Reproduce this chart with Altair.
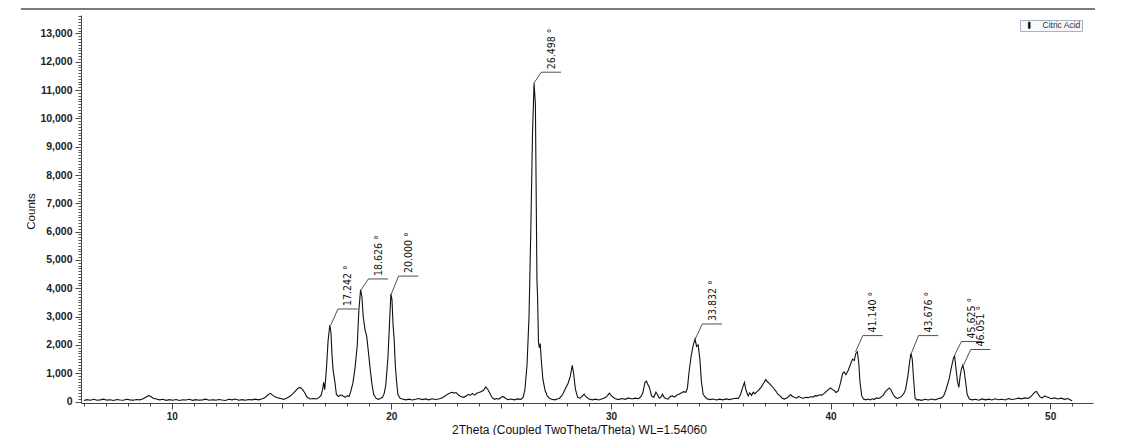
import altair as alt
import pandas as pd

# ---- scan: (2theta, counts) ----
region_06_16 = [
    (6.0, 40), (6.15, 70), (6.3, 50), (6.45, 80), (6.6, 45), (6.75, 60), (6.9, 85), (7.05, 50),
    (7.2, 65), (7.35, 40), (7.5, 75), (7.65, 55), (7.8, 45), (7.95, 80), (8.1, 60), (8.25, 50),
    (8.4, 75), (8.55, 60), (8.7, 100), (8.85, 170), (8.95, 210), (9.05, 180), (9.15, 120),
    (9.3, 90), (9.45, 60), (9.6, 80), (9.75, 45), (9.9, 70), (10.05, 50), (10.2, 75), (10.35, 40),
    (10.5, 65), (10.65, 55), (10.8, 80), (10.95, 45), (11.1, 70), (11.25, 50), (11.4, 60),
    (11.55, 85), (11.7, 45), (11.85, 65), (12.0, 50), (12.15, 75), (12.3, 55), (12.45, 40),
    (12.6, 80), (12.75, 60), (12.9, 90), (13.05, 50), (13.2, 70), (13.35, 45), (13.5, 75),
    (13.65, 60), (13.8, 85), (13.95, 60), (14.1, 90), (14.25, 140), (14.4, 250), (14.5, 290),
    (14.6, 220), (14.7, 170), (14.85, 130), (15.0, 100), (15.1, 80), (15.2, 110), (15.35, 170),
    (15.5, 260), (15.65, 390), (15.75, 470), (15.85, 500), (15.95, 430), (16.05, 320),
    (16.15, 170), (16.3, 90), (16.45, 110), (16.6, 90), (16.7, 140),
]
region_16_21 = [
    (16.8, 220), (16.87, 420), (16.92, 680), (16.97, 420), (17.05, 1200), (17.12, 2150),
    (17.2, 2700), (17.25, 2450), (17.3, 1650), (17.35, 1100), (17.42, 750), (17.5, 250),
    (17.6, 180), (17.7, 240), (17.8, 200), (17.9, 150), (18.0, 210), (18.08, 180), (18.15, 350),
    (18.25, 650), (18.35, 1200), (18.45, 2000), (18.52, 3200), (18.6, 3950), (18.66, 3700),
    (18.72, 3000), (18.8, 2550), (18.88, 2300), (18.95, 1800), (19.03, 1200), (19.12, 600),
    (19.2, 250), (19.3, 120), (19.4, 80), (19.5, 110), (19.6, 150), (19.68, 300), (19.75, 600),
    (19.85, 1600), (19.92, 2800), (19.98, 3800), (20.03, 3600), (20.08, 2700), (20.13, 2200),
    (20.18, 1300), (20.24, 700), (20.3, 250), (20.4, 120), (20.5, 90), (20.65, 60), (20.8, 85),
    (20.95, 55),
]
region_21_30 = [
    (21.1, 80), (21.25, 110), (21.4, 70), (21.55, 95), (21.7, 60), (21.85, 100), (22.0, 75),
    (22.15, 90), (22.3, 130), (22.45, 200), (22.6, 280), (22.75, 330), (22.85, 300),
    (22.95, 320), (23.05, 240), (23.15, 180), (23.3, 150), (23.4, 200), (23.5, 250),
    (23.6, 230), (23.7, 290), (23.8, 230), (23.9, 300), (24.0, 320), (24.1, 360), (24.2, 400),
    (24.3, 520), (24.4, 420), (24.5, 280), (24.6, 130), (24.7, 80), (24.8, 110), (24.9, 90),
    (25.0, 150), (25.08, 180), (25.2, 120), (25.3, 70), (25.45, 90), (25.6, 60), (25.75, 95),
    (25.9, 80), (26.0, 150), (26.08, 400), (26.18, 1300), (26.27, 3000), (26.35, 6000),
    (26.43, 9500), (26.5, 11250), (26.56, 10500), (26.6, 7000), (26.63, 4300), (26.66, 3700),
    (26.7, 2100), (26.74, 1900), (26.78, 2050), (26.83, 1450), (26.9, 800), (27.0, 400),
    (27.1, 200), (27.2, 120), (27.3, 80), (27.45, 60), (27.55, 90), (27.65, 110), (27.8, 250),
    (27.95, 500), (28.05, 650), (28.15, 900), (28.24, 1280), (28.3, 1000), (28.38, 450),
    (28.48, 150), (28.6, 120), (28.7, 200), (28.78, 260), (28.85, 180), (29.0, 90),
    (29.15, 60), (29.3, 85), (29.45, 55), (29.6, 100), (29.75, 140), (29.85, 220),
    (29.93, 300), (30.0, 230),
]
region_30_40 = [
    (30.1, 150), (30.2, 100), (30.35, 70), (30.5, 110), (30.65, 80), (30.8, 130), (30.95, 90),
    (31.1, 120), (31.25, 100), (31.35, 160), (31.45, 300), (31.55, 680), (31.62, 720),
    (31.68, 600), (31.75, 500), (31.85, 200), (31.95, 150), (32.05, 330), (32.12, 250),
    (32.2, 120), (32.28, 160), (32.35, 260), (32.42, 150), (32.5, 110), (32.6, 90),
    (32.7, 180), (32.8, 200), (32.9, 160), (33.0, 230), (33.1, 260), (33.2, 300), (33.3, 350),
    (33.4, 330), (33.48, 450), (33.55, 1000), (33.65, 1600), (33.75, 2000), (33.83, 2200),
    (33.9, 1950), (33.97, 2000), (34.05, 1500), (34.12, 700), (34.2, 250), (34.35, 110),
    (34.5, 70), (34.65, 90), (34.8, 55), (34.95, 85), (35.1, 60), (35.25, 95), (35.4, 70),
    (35.55, 100), (35.7, 120), (35.8, 110), (35.9, 250), (36.0, 500), (36.08, 680),
    (36.15, 400), (36.25, 200), (36.32, 310), (36.4, 220), (36.48, 330), (36.55, 280),
    (36.65, 350), (36.75, 420), (36.85, 520), (36.95, 650), (37.05, 780), (37.12, 700),
    (37.2, 650), (37.3, 560), (37.4, 480), (37.5, 380), (37.6, 260), (37.7, 200), (37.8, 120),
    (37.9, 90), (38.0, 130), (38.1, 180), (38.18, 250), (38.25, 190), (38.35, 150),
    (38.45, 120), (38.55, 180), (38.65, 140), (38.75, 110), (38.85, 150), (39.0, 140),
    (39.1, 180), (39.2, 160), (39.3, 210), (39.4, 200), (39.5, 240), (39.6, 230), (39.7, 280),
    (39.8, 350), (39.9, 420),
]
region_40_51 = [
    (40.0, 480), (40.08, 430), (40.15, 400), (40.25, 320), (40.35, 380), (40.45, 650),
    (40.55, 1000), (40.62, 1050), (40.7, 950), (40.8, 1100), (40.9, 1300), (41.0, 1500),
    (41.08, 1450), (41.15, 1700), (41.22, 1760), (41.28, 1400), (41.34, 700), (41.42, 200),
    (41.5, 90), (41.6, 60), (41.7, 90), (41.8, 60), (41.9, 100), (42.0, 80), (42.1, 130),
    (42.2, 110), (42.3, 160), (42.4, 230), (42.5, 350), (42.6, 430), (42.68, 480),
    (42.75, 420), (42.85, 250), (42.95, 150), (43.05, 110), (43.15, 140), (43.25, 200),
    (43.35, 300), (43.42, 450), (43.52, 900), (43.6, 1400), (43.66, 1700), (43.72, 1500),
    (43.78, 800), (43.85, 120), (43.92, 60), (44.0, 70), (44.15, 45), (44.3, 80), (44.45, 55),
    (44.6, 90), (44.75, 60), (44.9, 100), (45.05, 130), (45.15, 200), (45.25, 400),
    (45.4, 800), (45.5, 1200), (45.6, 1550), (45.65, 1600), (45.72, 1100), (45.78, 700),
    (45.84, 500), (45.9, 900), (45.96, 1150), (46.02, 1280), (46.08, 1100), (46.15, 700),
    (46.22, 250), (46.32, 90), (46.45, 60), (46.6, 80), (46.75, 50), (46.9, 95), (47.05, 60),
    (47.2, 85), (47.35, 55), (47.5, 100), (47.65, 65), (47.8, 80), (47.95, 55), (48.1, 105),
    (48.25, 75), (48.4, 90), (48.55, 120), (48.7, 95), (48.85, 130), (49.0, 110),
    (49.1, 160), (49.2, 250), (49.3, 330), (49.38, 360), (49.45, 270), (49.55, 150),
    (49.65, 130), (49.75, 200), (49.82, 170), (49.9, 150), (50.05, 100), (50.2, 130),
    (50.35, 90), (50.5, 120), (50.65, 80), (50.8, 110), (50.95, 50), (51.0, 30),
]

series_name = "Citric Acid"

peak_pos = [17.242, 18.626, 20.000, 26.498, 33.832, 41.140, 43.676, 45.625, 46.051]
peak_top = [2700, 3950, 3800, 11250, 2200, 1760, 1700, 1600, 1280]
peak_elbow = [3270, 4330, 4430, 11630, 2740, 2330, 2330, 2120, 1840]
peak_text = ["17.242 °", "18.626 °", "20.000 °", "26.498 °", "33.832 °",
             "41.140 °", "43.676 °", "45.625 °", "46.051 °"]

x_ticks_major = [10, 20, 30, 40, 50]
x_ticks_mid = [15, 25, 35, 45]
x_ticks_minor = list(range(6, 52))
y_ticks_major = list(range(0, 13001, 1000))
y_ticks_minor = list(range(0, 13601, 100))

X_DOM = [5.87, 51.95]
Y_DOM = [-50, 13650]

scan = region_06_16 + region_16_21 + region_21_30 + region_30_40 + region_40_51
df = pd.DataFrame(scan, columns=["theta", "counts"])
df["series"] = series_name
lab = pd.DataFrame({"pos": peak_pos, "top": peak_top, "elbow": peak_elbow, "text": peak_text})
lab["ex"] = lab["pos"] + 0.33
lab["hx"] = lab["ex"] + 0.9
lab["tx"] = lab["ex"] + 0.47

xs = alt.Scale(domain=X_DOM, nice=False, zero=False)
ys = alt.Scale(domain=Y_DOM, nice=False, zero=False)

AX = dict(domainColor="#444", tickColor="#444", labelColor="#222",
          labelFont="Liberation Sans", titleFont="Liberation Sans", grid=False)

x_major = alt.Axis(values=x_ticks_major, tickSize=6, labelPadding=2, labelFontSize=10,
                   labelFontWeight="bold", title="2Theta (Coupled TwoTheta/Theta) WL=1.54060",
                   titleFontSize=12, titleFontWeight="normal", titleColor="#111",
                   titleX=498, titleY=26, titleBaseline="middle", titleAnchor="middle",
                   orient="bottom", **AX)
y_major = alt.Axis(values=y_ticks_major, labelExpr="format(datum.value, ',')",
                   tickSize=6, labelPadding=3, labelFontSize=10.5,
                   labelFontWeight="bold", title="Counts", titleFontSize=11.5,
                   titleFontWeight="normal", titleColor="#111", titleAngle=270,
                   titleX=-50, titleY=196, titleAlign="center", titleBaseline="middle",
                   orient="left", **AX)

line = alt.Chart(df).mark_line(strokeWidth=1.1, clip=True).encode(
    x=alt.X("theta:Q", scale=xs, axis=x_major),
    y=alt.Y("counts:Q", scale=ys, axis=y_major),
    color=alt.Color("series:N", scale=alt.Scale(range=["#111111"]),
                    legend=alt.Legend(orient="none", legendX=939, legendY=5, title=None,
                                      labelFontSize=8.5, labelFont="Liberation Sans",
                                      labelColor="#333",
                                      symbolType="M-0.3,-1L0.3,-1L0.3,1L-0.3,1Z",
                                      symbolSize=40, symbolFillColor="#000",
                                      symbolStrokeColor="#000", symbolStrokeWidth=0.5,
                                      strokeColor="#a8b2c8", fillColor="#f7f8fb",
                                      padding=1, rowPadding=0, labelOffset=9,
                                      symbolOffset=4, cornerRadius=0)),
)

minor_axes = alt.Chart(df).mark_point(opacity=0).encode(
    x=alt.X("theta:Q", scale=xs,
            axis=alt.Axis(values=x_ticks_minor, labels=False, tickSize=3, domain=False,
                          title=None, tickColor="#444", grid=False, orient="bottom")),
    y=alt.Y("counts:Q", scale=ys,
            axis=alt.Axis(values=y_ticks_minor, labels=False, tickSize=3, domain=False,
                          title=None, tickColor="#555", grid=False, orient="left")),
)
mid_axes = alt.Chart(df).mark_point(opacity=0).encode(
    x=alt.X("theta:Q", scale=xs,
            axis=alt.Axis(values=x_ticks_mid, labels=False, tickSize=5, domain=False,
                          title=None, tickColor="#444", grid=False, orient="bottom")),
    y=alt.Y("counts:Q", scale=ys,
            axis=alt.Axis(values=[0], labels=False, tickSize=3, domain=False,
                          title=None, tickColor="#555", grid=False, orient="left")),
)

diag = alt.Chart(lab).mark_rule(strokeWidth=0.8, color="#222").encode(
    x=alt.X("pos:Q", scale=xs, axis=None), y=alt.Y("top:Q", scale=ys, axis=None),
    x2="ex:Q", y2="elbow:Q")
horiz = alt.Chart(lab).mark_rule(strokeWidth=0.8, color="#222").encode(
    x=alt.X("ex:Q", scale=xs, axis=None), x2="hx:Q", y=alt.Y("elbow:Q", scale=ys, axis=None))
texts = alt.Chart(lab).mark_text(angle=270, align="left", baseline="middle", dx=3,
                                 fontSize=10.5, color="#111",
                                 font="Liberation Sans Narrow, Arial Narrow, DejaVu Sans Condensed, Liberation Sans").encode(
    x=alt.X("tx:Q", scale=xs, axis=None), y=alt.Y("elbow:Q", scale=ys, axis=None),
    text="text:N")

topline = alt.Chart(df).mark_rule(color="#7a7a7a", strokeWidth=2).encode(
    x=alt.value(-60), x2=alt.value(1014), y=alt.value(-6))

chart = alt.layer(line, minor_axes, mid_axes, diag, horiz, texts, topline).resolve_axis(
    x="independent", y="independent"
).properties(
    width=1012, height=388,
    autosize=alt.AutoSizeParams(type="none"),
    padding={"left": 73, "top": 7, "right": 40, "bottom": 32},
).configure_view(stroke=None)

chart.save("out.html", embed_options={"renderer": "svg", "actions": False})
